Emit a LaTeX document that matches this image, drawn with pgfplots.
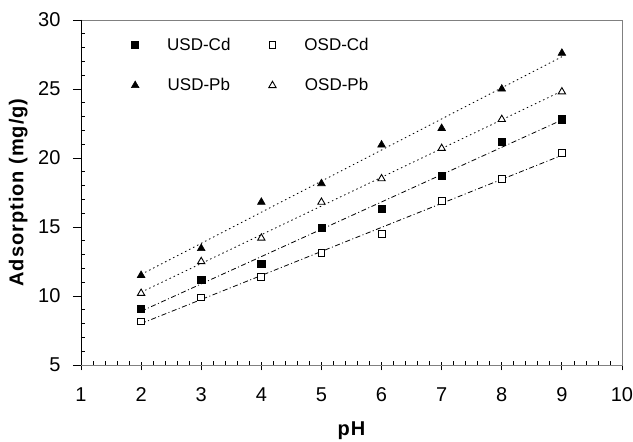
\documentclass[border=0pt]{standalone}
\usepackage{fontspec}
\setmainfont{Liberation Sans}
\usepackage{pgfplots}
\pgfplotsset{compat=1.18}
\begin{document}
\begin{tikzpicture}
\useasboundingbox (0,0) rectangle (633pt,442pt);
\begin{axis}[at={(81pt,77pt)}, anchor=south west, scale only axis, width=541pt, height=345pt,
  xmin=1, xmax=10, ymin=5, ymax=30,
  xtick={1,...,10}, ytick={5,10,...,30},
  minor x tick num=4, minor y tick num=4,
  xtick pos=lower, ytick pos=left, tick align=outside,
  major tick length=8pt, minor tick length=4pt,
  minor x tick style={yshift=4pt}, minor y tick style={xshift=4pt},
  major x tick style={yshift=2.5pt},
  axis line style={gray, line width=0.8pt},
  tick style={black, line width=0.8pt},
  /pgf/number format/assume math mode=true,
  ticklabel style={font=\fontsize{20}{23}\selectfont},
  xticklabel style={yshift=-11pt},
  yticklabel style={xshift=-9pt},
  xlabel={pH}, ylabel={Adsorption (mg/g)},
  label style={font=\fontsize{20}{23}\selectfont\bfseries\addfontfeature{LetterSpace=5}},
  xlabel style={at={(axis description cs:0.5,-0.19)}, anchor=center},
  ylabel style={at={(axis description cs:-0.116,0.5)}, anchor=center},
  legend columns=2,
  legend style={draw=none, fill=none, inner sep=0pt, at={(axis description cs:0.085,0.955)}, anchor=north west,
    font=\fontsize{17}{20}\selectfont, row sep=23pt,
    /tikz/every even column/.append style={column sep=32pt}},
  legend image code/.code={\path[draw=none,fill=none] (-8pt,0pt) rectangle (30pt,0pt); \draw[#1] plot coordinates {(0pt,0pt)};},
]
% trend lines
\addplot[black, line width=0.8pt, dash pattern=on 5pt off 2.5pt on 1pt off 2.5pt, forget plot] coordinates {(2,8.896) (9,22.754)};
\addplot[black, line width=0.8pt, dash pattern=on 5pt off 2.5pt on 1pt off 2.5pt, forget plot] coordinates {(2,8.004) (9,20.196)};
\addplot[black, line width=0.8pt, dash pattern=on 1.5pt off 3pt, forget plot] coordinates {(2,11.563) (9,27.338)};
\addplot[black, line width=0.8pt, dash pattern=on 1.5pt off 3pt, forget plot] coordinates {(2,10.275) (9,24.850)};
% data
\addplot[only marks, mark=square*, mark size=3.6pt, mark options={black, fill=black, line width=0.6pt}] coordinates {
(2,9.1) (3,11.2) (4,12.35) (5,14.95) (6,16.3) (7,18.7) (8,21.2) (9,22.8)};
\addlegendentry{USD-Cd}
\addplot[only marks, mark=square*, mark size=3.4pt, mark options={black, fill=white, line width=0.9pt}] coordinates {
(2,8.15) (3,9.9) (4,11.4) (5,13.1) (6,14.5) (7,16.9) (8,18.5) (9,20.35)};
\addlegendentry{OSD-Cd}
\addplot[only marks, mark=triangle*, mark size=4.4pt, mark options={black, fill=black, line width=0.6pt}] coordinates {
(2,11.5) (3,13.45) (4,16.8) (5,18.15) (6,20.95) (7,22.15) (8,25.0) (9,27.6)};
\addlegendentry{USD-Pb}
\addplot[only marks, mark=triangle*, mark size=4.2pt, mark options={black, fill=white, line width=0.9pt}] coordinates {
(2,10.2) (3,12.5) (4,14.2) (5,16.8) (6,18.5) (7,20.7) (8,22.8) (9,24.8)};
\addlegendentry{OSD-Pb}
\draw[black, line width=0.8pt] (rel axis cs:0,1) -- (rel axis cs:0,0) -- (rel axis cs:1,0);
\end{axis}
\end{tikzpicture}
\end{document}
